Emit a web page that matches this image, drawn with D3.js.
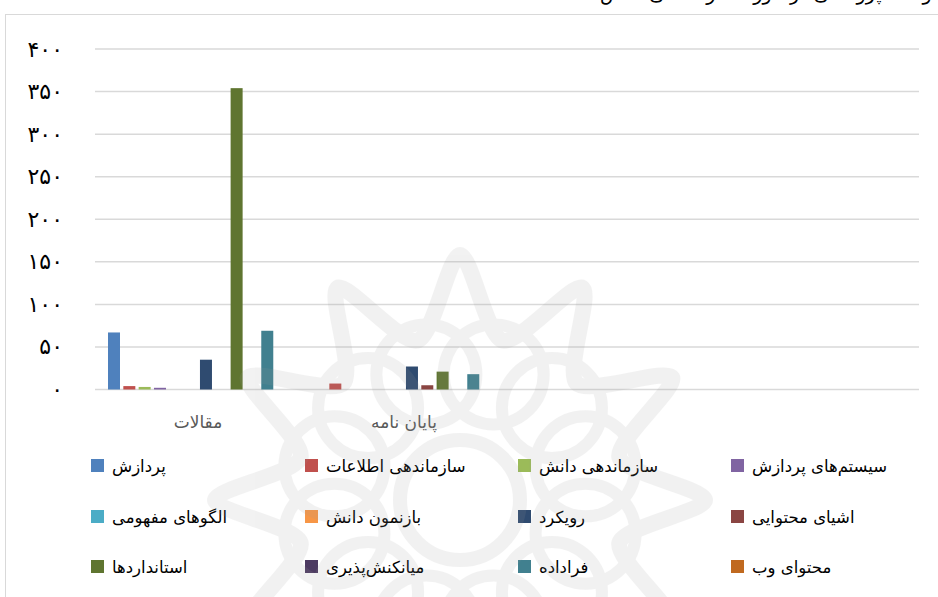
<!DOCTYPE html>
<html>
<head>
<meta charset="utf-8">
<script src="https://cdn.jsdelivr.net/npm/d3@7"></script>
<style>
  body { margin: 0; background: #fff; }
  svg { display: block; font-family: "DejaVu Sans", sans-serif; }
</style>
</head>
<body>
<div class="app"></div>
<script>
// chart data
var categories = ["مقالات", "پایان نامه", "c3", "c4"],
    categoryLabels = ["مقالات", "پایان نامه", "", ""];

var seriesNames = [
    "پردازش", "سازماندهی اطلاعات", "سازماندهی دانش", "سیستم‌های پردازش",
    "الگوهای مفهومی", "بازنمون دانش", "رویکرد", "اشیای محتوایی",
    "استانداردها", "میانکنش‌پذیری", "فراداده", "محتوای وب"
];

var seriesColors = [
    "#4f81bd", "#c0504d", "#9bbb59", "#8064a2",
    "#4bacc6", "#f79646", "#2f4b70", "#8a4542",
    "#5f7530", "#4d3b62", "#41808f", "#c0691f"
];

// values per series: [مقالات, پایان نامه]
var articleValues = [67, 4, 3, 2, 0, 0, 35, 0, 354, 0, 69, 0],
    thesisValues  = [0, 7, 0, 0, 0, 0, 27, 5, 21, 0, 18, 0];

var yTicks = [0, 50, 100, 150, 200, 250, 300, 350, 400];

var W = 938, H = 597;

var svg = d3.select(".app").append("svg")
    .attr("width", W)
    .attr("height", H);

// persian digits for tick labels
function fa(n) {
    return String(n).replace(/[0-9]/g, function(c){ return "۰۱۲۳۴۵۶۷۸۹"[+c]; });
}

// title (only its lower edge shows at the top of the picture)
svg.append("text")
    .attr("x", 600)
    .attr("y", 0)
    .style("font-size", "19px")
    .style("fill", "#000")
    .text("نمودار فراوانی موضوعات پژوهشی در حوزه سازماندهی دانش");

// outer chart frame
svg.append("rect")
    .attr("x", 5.5).attr("y", 14.5)
    .attr("width", W).attr("height", H)
    .attr("fill", "#fff")
    .attr("stroke", "#d9d9d9");

var x = d3.scaleBand().domain(categories).range([95, 919]),
    xs = d3.scaleBand().domain(d3.range(seriesNames.length)).range([13, 193.6]).paddingInner(0.217),
    y = d3.scaleLinear().domain([0, 400]).range([389.5, 49]);

// gridlines
svg.append("g").selectAll("line")
    .data(yTicks)
    .enter().append("line")
    .attr("x1", 95).attr("x2", 919)
    .attr("y1", function(d){ return y(d); })
    .attr("y2", function(d){ return y(d); })
    .attr("stroke", "#d9d9d9")
    .attr("stroke-width", 1.5);

// y axis labels
var yAxis = d3.axisLeft(y).tickValues(yTicks).tickSize(0).tickPadding(0).tickFormat(fa);
var ya = svg.append("g")
    .attr("transform", "translate(63,0)")
    .call(yAxis);
ya.select(".domain").remove();
ya.selectAll("text")
    .style("font-size", "22px")
    .style("font-family", "DejaVu Sans")
    .style("fill", "#000");

// bars
var seriesData = seriesNames.map(function(name, i) {
    return { name: name, i: i, values: [articleValues[i], thesisValues[i]] };
});

var bars = svg.append("g");
seriesData.forEach(function(s) {
    bars.selectAll(".s" + s.i)
        .data(s.values)
        .enter().append("rect")
        .attr("class", "s" + s.i)
        .attr("x", function(d, j){ return x(categories[j]) + xs(s.i); })
        .attr("width", xs.bandwidth())
        .attr("y", function(d){ return y(d); })
        .attr("height", function(d){ return y(0) - y(d); })
        .attr("fill", seriesColors[s.i]);
});

// category labels
svg.append("g").selectAll("text")
    .data(categories)
    .enter().append("text")
    .attr("x", function(d){ return x(d) + x.bandwidth() / 2; })
    .attr("y", 428)
    .attr("text-anchor", "middle")
    .style("font-size", "17px")
    .style("fill", "#595959")
    .text(function(d, i){ return categoryLabels[i]; });

// legend, 4 columns x 3 rows
var legendX = [91, 305, 518, 731],
    legendY = [466, 517, 567];

var legend = svg.append("g").selectAll("g")
    .data(seriesData)
    .enter().append("g")
    .attr("transform", function(d){
        return "translate(" + legendX[d.i % 4] + "," + legendY[Math.floor(d.i / 4)] + ")";
    });

legend.append("rect")
    .attr("x", 0).attr("y", -7)
    .attr("width", 13).attr("height", 13)
    .attr("fill", function(d){ return seriesColors[d.i]; });

legend.append("text")
    .attr("x", 21)
    .attr("y", 6)
    .style("font-size", "16.5px")
    .style("fill", "#000")
    .text(function(d){ return d.name; });

// faint emblem watermark lying over the chart
var wm = svg.append("g")
    .attr("transform", "translate(460,500)")
    .attr("fill", "none")
    .attr("stroke", "#9a9a9a")
    .attr("opacity", 0.13);

var pts = 12, rOut = 245, rIn = 165;
var star = d3.range(pts * 2).map(function(k) {
    var a = k * Math.PI / pts - Math.PI / 2,
        r = k % 2 ? rIn : rOut;
    return [r * Math.cos(a), r * Math.sin(a)];
});
wm.append("path")
    .attr("d", d3.line().curve(d3.curveCardinalClosed.tension(0.2))(star))
    .attr("stroke-width", 16);

d3.range(pts).forEach(function(k) {
    var a = (k + 0.5) * 2 * Math.PI / pts - Math.PI / 2;
    wm.append("circle")
        .attr("cx", 130 * Math.cos(a))
        .attr("cy", 130 * Math.sin(a))
        .attr("r", 50)
        .attr("stroke-width", 12);
});
wm.append("circle").attr("r", 60).attr("stroke-width", 14);
</script>
</body>
</html>
